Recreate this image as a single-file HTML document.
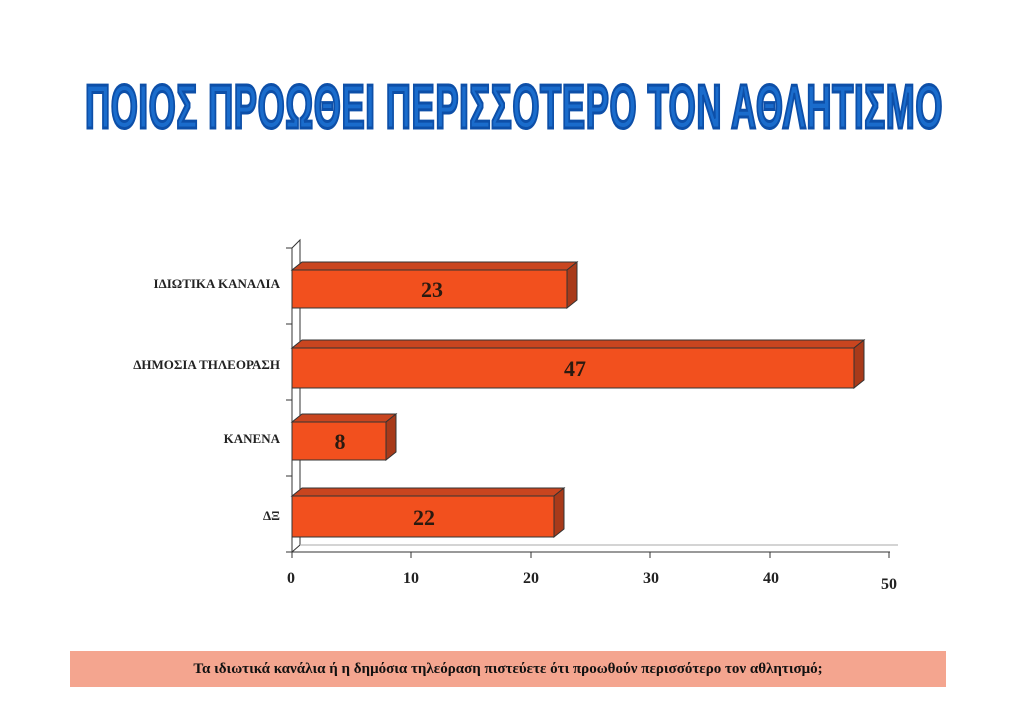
<!DOCTYPE html>
<html><head><meta charset="utf-8"><style>
body{margin:0;width:1024px;height:724px;background:#fff;overflow:hidden;position:relative;font-family:"Liberation Serif",serif}
.t{position:absolute;left:85px;top:72px;width:858px;height:64px;}
.t span{display:inline-block;transform-origin:0 0;font-family:"Liberation Sans",sans-serif;font-weight:bold;font-size:62px;color:#1a6ccc;-webkit-text-stroke:3px #0d4fa8;white-space:nowrap;letter-spacing:1px}
.lab{position:absolute;font-weight:bold;font-size:13px;color:#222;text-align:right;width:270px;left:10px}
.ban{position:absolute;left:70px;top:651px;width:876px;height:36px;background:#f4a58f;text-align:center;font-size:15px;font-weight:bold;line-height:36px;color:#111}
</style></head><body>
<div class="t"><span id="ti">ΠΟΙΟΣ ΠΡΟΩΘΕΙ ΠΕΡΙΣΣΟΤΕΡΟ ΤΟΝ ΑΘΛΗΤΙΣΜΟ</span></div>
<script>var e=document.getElementById('ti');e.style.transform='scale('+(858/e.offsetWidth)+',1)';</script>
<svg width="1024" height="724" style="position:absolute;left:0;top:0">
<g stroke="#333" stroke-width="1" fill="none">
<polyline points="292,552 292,248 300,240 300,545"/>
<line x1="292" y1="552" x2="890" y2="552"/>
<line x1="292" y1="552" x2="300" y2="545"/>
<line x1="300" y1="545" x2="898" y2="545" stroke="#aaa"/>
<line x1="286" y1="552" x2="292" y2="552"/>
<line x1="286" y1="476" x2="292" y2="476"/>
<line x1="286" y1="400" x2="292" y2="400"/>
<line x1="286" y1="324" x2="292" y2="324"/>
<line x1="286" y1="248" x2="292" y2="248"/>
<line x1="292" y1="552" x2="292" y2="558"/><line x1="411" y1="552" x2="411" y2="558"/><line x1="531" y1="552" x2="531" y2="558"/><line x1="650" y1="552" x2="650" y2="558"/><line x1="770" y1="552" x2="770" y2="558"/><line x1="889" y1="552" x2="889" y2="558"/>
</g>
<g stroke="#333" stroke-width="1">
<polygon points="292,270 567,270 577,262 302,262" fill="#c9451f"/><polygon points="567,270 577,262 577,300 567,308" fill="#a83a1a"/><rect x="292" y="270" width="275" height="38" fill="#f2501e"/>
<polygon points="292,348 854,348 864,340 302,340" fill="#c9451f"/><polygon points="854,348 864,340 864,380 854,388" fill="#a83a1a"/><rect x="292" y="348" width="562" height="40" fill="#f2501e"/>
<polygon points="292,422 386,422 396,414 302,414" fill="#c9451f"/><polygon points="386,422 396,414 396,452 386,460" fill="#a83a1a"/><rect x="292" y="422" width="94" height="38" fill="#f2501e"/>
<polygon points="292,496 554,496 564,488 302,488" fill="#c9451f"/><polygon points="554,496 564,488 564,529 554,537" fill="#a83a1a"/><rect x="292" y="496" width="262" height="41" fill="#f2501e"/>
</g>
<g font-family="Liberation Serif" font-weight="bold" font-size="22" fill="#2a1a10" text-anchor="middle">
<text x="432" y="297">23</text><text x="575" y="376">47</text><text x="340" y="449">8</text><text x="424" y="525">22</text>
</g>
<g font-family="Liberation Serif" font-weight="bold" font-size="16" fill="#222" text-anchor="middle">
<text x="291" y="583">0</text><text x="411" y="583">10</text><text x="531" y="583">20</text><text x="651" y="583">30</text><text x="771" y="583">40</text><text x="889" y="589">50</text>
</g>
</svg>
<div class="lab" style="top:276px">ΙΔΙΩΤΙΚΑ ΚΑΝΑΛΙΑ</div>
<div class="lab" style="top:357px">ΔΗΜΟΣΙΑ ΤΗΛΕΟΡΑΣΗ</div>
<div class="lab" style="top:431px">ΚΑΝΕΝΑ</div>
<div class="lab" style="top:508px">ΔΞ</div>
<div class="ban">Τα ιδιωτικά κανάλια ή η δημόσια τηλεόραση πιστεύετε ότι προωθούν περισσότερο τον αθλητισμό;</div>
</body></html>
